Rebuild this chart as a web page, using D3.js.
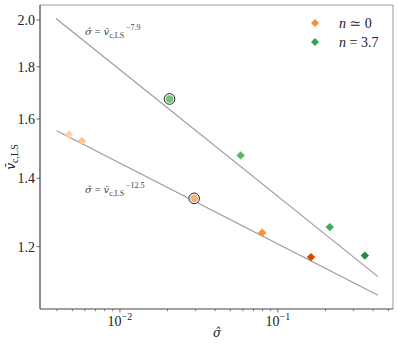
<!DOCTYPE html>
<html><head><meta charset="utf-8">
<script src="https://cdn.jsdelivr.net/npm/d3@7"></script>
<style>body{margin:0;background:#fff}svg{display:block}text{font-family:"Liberation Serif","DejaVu Serif",serif}.dv{font-family:"DejaVu Serif",serif}</style>
</head><body><svg id="c" width="399" height="346"></svg>
<script>
// data
const sigmaN0 = [0.00476, 0.00575, 0.0295, 0.0795, 0.162];
const vN0 = [1.545, 1.523, 1.338, 1.238, 1.172];
const colN0 = ["#fdd0a2", "#fdc590", "#fdae6b", "#fd8d3c", "#d94801"];
const circledN0 = [false, false, true, false, false];
const sigmaN37 = [0.0206, 0.0581, 0.213, 0.355];
const vN37 = [1.674, 1.474, 1.254, 1.176];
const colN37 = ["#74c476", "#5cb85f", "#41ab5d", "#238b45"];
const circledN37 = [true, false, false, false];
const fitUpperSigma = [0.00394, 0.43];
const fitUpperV = [2.007, 1.1215];
const fitLowerSigma = [0.00398, 0.43];
const fitLowerV = [1.558, 1.0753];
const yTicks = [1.2, 1.4, 1.6, 1.8, 2.0];
const yTickLabels = ["1.2", "1.4", "1.6", "1.8", "2.0"];
const xMajor = [0.01, 0.1];
const xMinor = [0.004,0.005,0.006,0.007,0.008,0.009,0.02,0.03,0.04,0.05,0.06,0.07,0.08,0.09,0.2,0.3,0.4,0.5];
const legendLabels = [["n", " ≃ 0"], ["n", " = 3.7"]];
const legendColors = ["#fd8d3c", "#31a354"];

const L = 40, R = 393, T = 5, B = 309;
const x = d3.scaleLog().domain([0.00312, 0.535]).range([L, R]);
const y = d3.scaleLog().domain([1.0426, 2.069]).range([B, T]);
const svg = d3.select("#c");

// frame
svg.append("line").attr("x1", L).attr("x2", R).attr("y1", T).attr("y2", T).attr("stroke", "#999").attr("stroke-width", 1);
svg.append("line").attr("x1", R).attr("x2", R).attr("y1", T).attr("y2", B).attr("stroke", "#999").attr("stroke-width", 1);

// x axis
const gx = svg.append("g").attr("transform", `translate(0,${B})`);
gx.selectAll(".mn").data(xMinor).join("line").attr("x1", d => x(d)).attr("x2", d => x(d)).attr("y1", 0).attr("y2", 2.2).attr("stroke", "#444").attr("stroke-width", 0.7);
gx.selectAll(".mj").data(xMajor).join("line").attr("x1", d => x(d)).attr("x2", d => x(d)).attr("y1", 0).attr("y2", 3.5).attr("stroke", "#444").attr("stroke-width", 0.8);
const xl = gx.selectAll(".xl").data(xMajor).join("text").attr("x", d => x(d)).attr("y", 17).attr("text-anchor", "middle").attr("font-size", 14).attr("fill", "#222");
xl.append("tspan").text("10");
xl.append("tspan").attr("dy", -6).attr("font-size", 10).text(d => "−" + Math.round(-Math.log10(d)));
svg.append("line").attr("x1", L).attr("x2", R).attr("y1", B).attr("y2", B).attr("stroke", "#444").attr("stroke-width", 1.2);

// y axis
const gy = svg.append("g");
gy.selectAll("line").data(yTicks).join("line").attr("x1", L - 3.5).attr("x2", L).attr("y1", d => y(d)).attr("y2", d => y(d)).attr("stroke", "#444").attr("stroke-width", 0.8);
gy.selectAll("text").data(yTicks).join("text").attr("x", L - 5).attr("y", d => y(d) + 5).attr("text-anchor", "end").attr("font-size", 14).attr("fill", "#222").text((d, i) => yTickLabels[i]);
svg.append("line").attr("x1", L).attr("x2", L).attr("y1", T).attr("y2", B).attr("stroke", "#444").attr("stroke-width", 1.2);

// axis labels
const yl = svg.append("text").attr("transform", "translate(15,157) rotate(-90)").attr("text-anchor", "middle").attr("font-size", 12).attr("fill", "#222");
yl.append("tspan").attr("class", "dv").attr("font-style", "italic").text("v̄");
yl.append("tspan").attr("dy", 3).attr("font-size", 10).text("c,LS");
svg.append("text").attr("class", "dv").attr("x", 217).attr("y", 337).attr("text-anchor", "middle").attr("font-size", 12).attr("font-style", "italic").attr("fill", "#222").text("σ̂");

// fit lines
const line = d3.line().x(d => x(d[0])).y(d => y(d[1]));
svg.append("path").attr("d", line(d3.zip(fitUpperSigma, fitUpperV))).attr("fill", "none").attr("stroke", "#999").attr("stroke-width", 1.1);
svg.append("path").attr("d", line(d3.zip(fitLowerSigma, fitLowerV))).attr("fill", "none").attr("stroke", "#999").attr("stroke-width", 1.1);

// annotations
function ann(px, py, exp) {
  const t = svg.append("text").attr("x", px).attr("y", py).attr("font-size", 11).attr("fill", "#444");
  t.append("tspan").attr("class", "dv").attr("font-size", 10).attr("font-style", "italic").text("σ̂");
  t.append("tspan").text(" = ");
  t.append("tspan").attr("class", "dv").attr("font-size", 10).attr("font-style", "italic").text("v̄");
  t.append("tspan").attr("dy", 2.5).attr("font-size", 8).text("c,LS");
  t.append("tspan").attr("dy", -8).attr("font-size", 8).text(" −" + exp);
}
ann(85, 35, "7.9");
ann(85, 193, "12.5");

// markers
const diamond = (cx, cy, r) => `M${cx},${cy - r}L${cx + r},${cy}L${cx},${cy + r}L${cx - r},${cy}Z`;
function drawSeries(sig, v, cols, circ) {
  sig.forEach((s, i) => {
    const cx = x(s), cy = y(v[i]);
    if (circ[i]) {
      svg.append("circle").attr("cx", cx).attr("cy", cy).attr("r", 5.3).attr("fill", "#fff").attr("stroke", "#222").attr("stroke-width", 1);
      svg.append("circle").attr("cx", cx).attr("cy", cy).attr("r", 3.8).attr("fill", cols[i]);
    } else {
      svg.append("path").attr("d", diamond(cx, cy, 4.2)).attr("fill", cols[i]);
    }
  });
}
drawSeries(sigmaN0, vN0, colN0, circledN0);
drawSeries(sigmaN37, vN37, colN37, circledN37);

// legend
legendLabels.forEach((lab, i) => {
  const ly = 23 + i * 19;
  svg.append("path").attr("d", diamond(315, ly, 4)).attr("fill", legendColors[i]);
  const t = svg.append("text").attr("x", 339).attr("y", ly + 4.5).attr("font-size", 14).attr("fill", "#222");
  t.append("tspan").attr("font-style", "italic").text(lab[0]);
  t.append("tspan").text(lab[1]);
});
</script></body></html>
